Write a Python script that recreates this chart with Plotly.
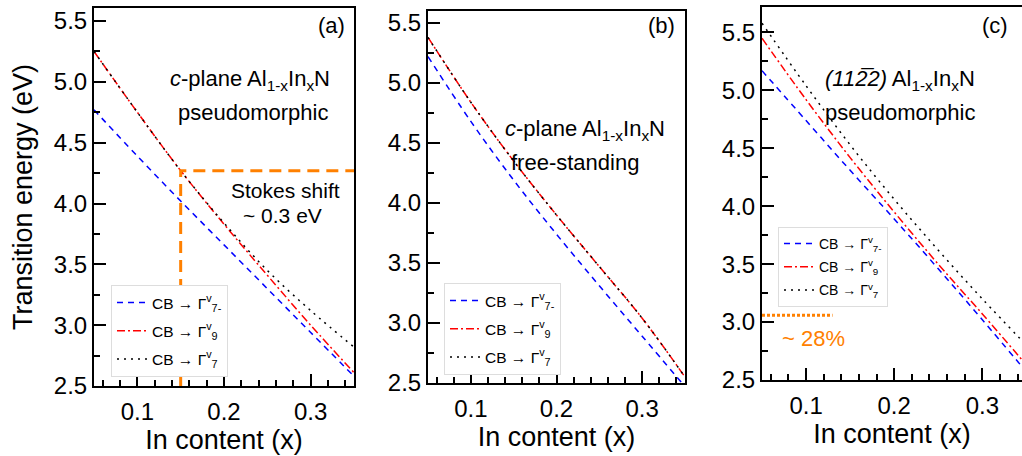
import plotly.graph_objects as go

# ---------------- data ----------------
x_in = [0.05, 0.10, 0.15, 0.20, 0.25, 0.30, 0.35]

# (a) c-plane pseudomorphic
a_g7m = [4.77, 4.39, 4.02, 3.66, 3.30, 2.94, 2.58]
a_g9 = [5.25, 4.75, 4.27, 3.83, 3.41, 3.00, 2.61]
a_g7p = [5.25, 4.75, 4.27, 3.84, 3.45, 3.12, 2.82]

# (b) c-plane free-standing
b_g7m = [5.22, 4.68, 4.19, 3.74, 3.31, 2.89, 2.47]
b_g9 = [5.38, 4.84, 4.35, 3.90, 3.47, 3.04, 2.55]
b_g7p = [5.38, 4.84, 4.35, 3.90, 3.47, 3.04, 2.55]

# (c) (11-22) pseudomorphic
c_g7m = [5.17, 4.74, 4.31, 3.89, 3.46, 3.02, 2.57]
c_g9 = [5.45, 4.92, 4.42, 3.95, 3.50, 3.07, 2.63]
c_g7p = [5.58, 5.04, 4.53, 4.06, 3.62, 3.20, 2.80]

# guide lines
stokes_x = [0.15, 0.15, 0.35]
stokes_e = [2.50, 4.27, 4.27]
thr_x = [0.05, 0.13]
thr_e = [3.06, 3.06]

legend_names = ["CB \u2192 \u0393<sup>v</sup><sub>7-</sub>",
                "CB \u2192 \u0393<sup>v</sup><sub>9</sub>",
                "CB \u2192 \u0393<sup>v</sup><sub>7</sub>"]
series_style = [dict(color="#0000ff", dash="6px,5px"),
                dict(color="#ff0000", dash="8px,3px,2px,3px"),
                dict(color="#000000", dash="2px,5px")]

FONT = "Liberation Sans, Arial, sans-serif"
ORANGE = "#ff8000"

fig = go.Figure()

panels = [
    ("x", "y", "legend", [a_g7m, a_g9, a_g7p]),
    ("x2", "y2", "legend2", [b_g7m, b_g9, b_g7p]),
    ("x3", "y3", "legend3", [c_g7m, c_g9, c_g7p]),
]
for xa, ya, lg, ser in panels:
    for k, vals in enumerate(ser):
        fig.add_trace(go.Scatter(
            x=x_in, y=vals, mode="lines", name=legend_names[k],
            line=dict(width=1.5, shape="spline", **series_style[k]),
            xaxis=xa, yaxis=ya, legend=lg, legendgroup=f"{lg}_{k}",
        ))

fig.add_trace(go.Scatter(x=stokes_x, y=stokes_e, mode="lines", showlegend=False,
                         line=dict(color=ORANGE, width=3, dash="12px,7px"),
                         xaxis="x", yaxis="y"))
fig.add_trace(go.Scatter(x=thr_x, y=thr_e, mode="lines", showlegend=False,
                         line=dict(color=ORANGE, width=3, dash="3px,2px"),
                         xaxis="x3", yaxis="y3"))

W, H = 1022, 456
def px(x0, x1):
    return [x0 / W, x1 / W]
def py(top, bot):
    return [1 - bot / H, 1 - top / H]

axis_common = dict(
    showline=True, linecolor="black", linewidth=2, mirror=True,
    ticks="inside", ticklen=12, tickwidth=2, tickcolor="black",
    showgrid=False, zeroline=False, automargin=False,
    tickfont=dict(family=FONT, size=24, color="black"),
    minor=dict(ticks="inside", ticklen=6, tickwidth=1.5, tickcolor="black", showgrid=False),
)
xcommon = dict(axis_common, range=[0.05, 0.35], tick0=0, dtick=0.1, tickformat=".1f",
               ticklabelstandoff=3,
               title=dict(text="In content (x)", font=dict(family=FONT, size=27, color="black"), standoff=6))
xcommon["minor"] = dict(axis_common["minor"], dtick=0.02, tick0=0)
ycommon = dict(axis_common, tick0=2.5, dtick=0.5, tickformat=".1f")
ycommon["minor"] = dict(axis_common["minor"], dtick=0.25, tick0=2.5)

fig.update_layout(
    width=W, height=H, margin=dict(l=0, r=0, t=0, b=0),
    paper_bgcolor="white", plot_bgcolor="white",
    font=dict(family=FONT, color="black"),
    xaxis=dict(xcommon, domain=px(94, 354), anchor="y"),
    yaxis=dict(ycommon, domain=py(8, 386), range=[2.5, 5.607], anchor="x",
               title=dict(text="Transition energy (eV)", font=dict(family=FONT, size=27, color="black"), standoff=13)),
    xaxis2=dict(xcommon, domain=px(428, 685), anchor="y2"),
    yaxis2=dict(ycommon, domain=py(11, 383), range=[2.5, 5.6], anchor="x2"),
    xaxis3=dict(xcommon, domain=px(762, 1022), range=[0.05, 0.345], anchor="y3"),
    yaxis3=dict(ycommon, domain=py(7, 380), range=[2.5, 5.72], anchor="x3"),
)

leg_common = dict(bgcolor="white", bordercolor="#dddddd", borderwidth=1,
                  xanchor="left", yanchor="top", traceorder="grouped",
                  itemwidth=30, tracegroupgap=5)
fig.update_layout(
    legend=dict(leg_common, x=111 / W, y=1 - 285 / H, font=dict(family=FONT, size=15.5, color="black")),
    legend2=dict(leg_common, x=444 / W, y=1 - 283 / H, font=dict(family=FONT, size=15.5, color="black")),
    legend3=dict(leg_common, x=778 / W, y=1 - 227 / H, font=dict(family=FONT, size=14, color="black"),
                 tracegroupgap=2),
)

def note(text, cx, cy, size=22, color="black"):
    fig.add_annotation(text=text, x=cx / W, y=1 - cy / H, xref="paper", yref="paper",
                       showarrow=False, xanchor="center", yanchor="middle",
                       font=dict(family=FONT, size=size, color=color))

alinn = "Al<sub>1-x</sub>In<sub>x</sub>N"
note("(a)", 331, 25)
note("<i>c</i>-plane " + alinn, 250, 80)
note("pseudomorphic", 253, 112)
note("Stokes shift", 285, 190, size=21)
note("~ 0.3 eV", 282, 216, size=21)
note("(b)", 661, 25)
note("<i>c</i>-plane " + alinn, 585, 130)
note("free-standing", 575, 162)
note("(c)", 995, 25)
note("<i>(112\u03052)</i> " + alinn, 900, 80)
note("pseudomorphic", 900, 112)
note("~ 28%", 813, 338, color=ORANGE)

fig.write_html("out.html")
